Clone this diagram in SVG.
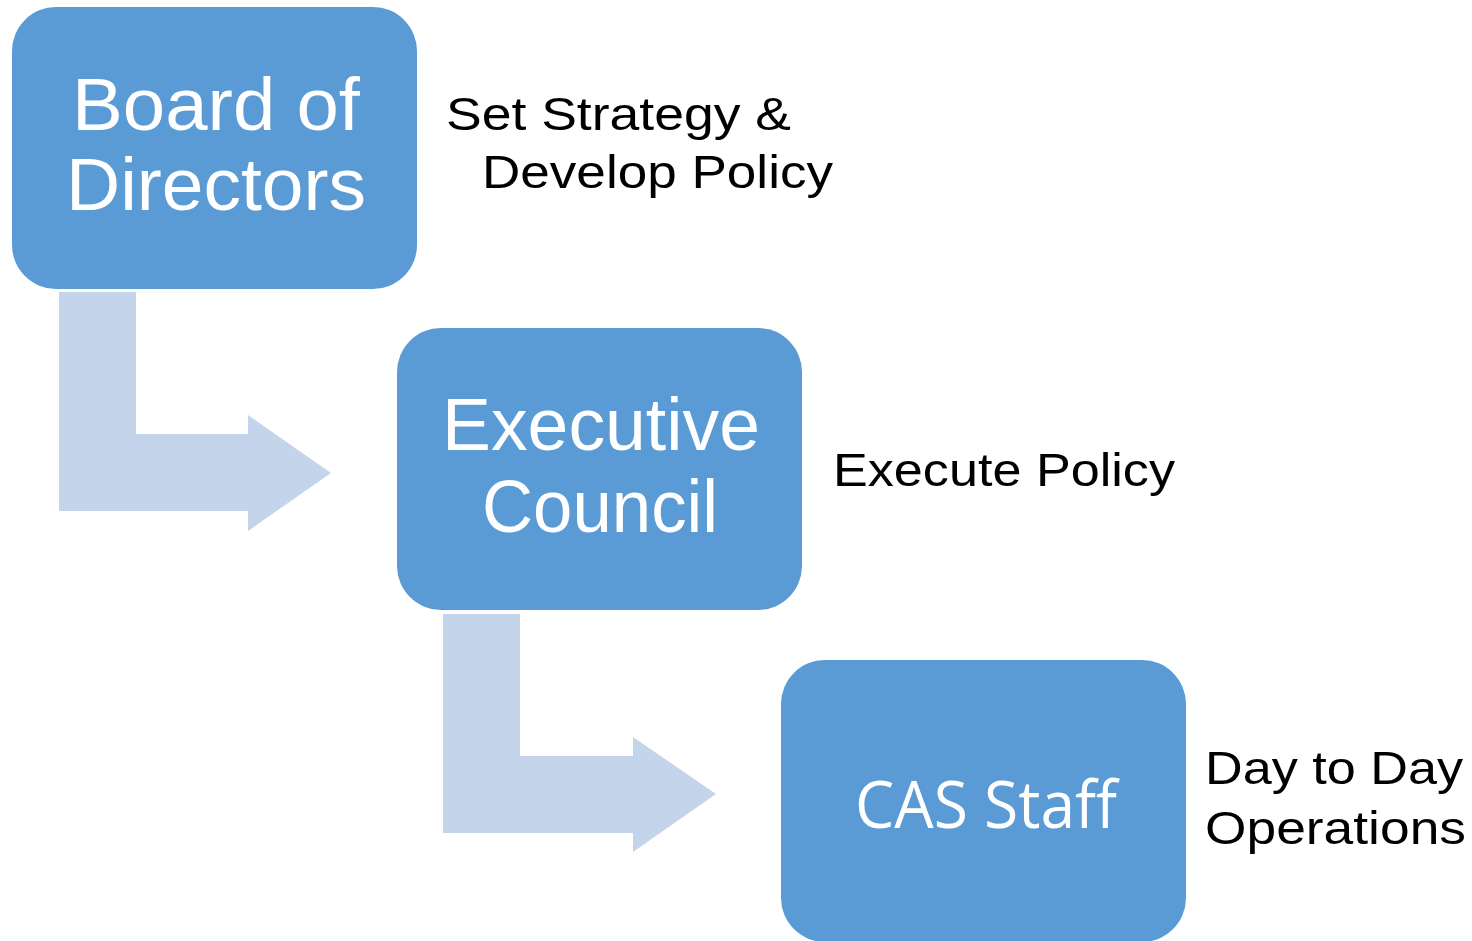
<svg xmlns="http://www.w3.org/2000/svg" width="1472" height="941" viewBox="0 0 1472 941">
<style>
.box{fill:#5B9BD5;}
.arrow{fill:#C4D5EB;}
.bt{font-family:"Liberation Sans",Arial,sans-serif;font-size:74px;fill:#FFFFFF;text-anchor:middle;}
.ct{font-family:"Open Sans","Noto Sans",sans-serif;font-size:65px;fill:#FFFFFF;text-anchor:middle;}
.lt{font-family:"Liberation Sans",Arial,sans-serif;font-size:47px;fill:#000000;}
</style>
<rect width="1472" height="941" fill="#FFFFFF"/>
<g id="connectors">
<path class="arrow" d="M59,292 H136 V434 H248 V415 L331,473 L248,531 V511 H59 Z"/>
<path class="arrow" d="M443,614 H520 V756 H633 V737 L716,794 L633,852 V833 H443 Z"/>
</g>
<g id="board">
<rect class="box" x="12" y="7" width="405" height="282" rx="44" ry="44"/>
<text class="bt" x="216" y="130" textLength="288" lengthAdjust="spacingAndGlyphs">Board of</text>
<text class="bt" x="216" y="210" textLength="300" lengthAdjust="spacingAndGlyphs">Directors</text>
</g>
<g id="executive">
<rect class="box" x="397" y="328" width="405" height="282" rx="44" ry="44"/>
<text class="bt" x="601" y="450" textLength="318" lengthAdjust="spacingAndGlyphs">Executive</text>
<text class="bt" x="600" y="532" textLength="236" lengthAdjust="spacingAndGlyphs">Council</text>
</g>
<g id="staff">
<rect class="box" x="781" y="660" width="405" height="282" rx="44" ry="44"/>
<text class="ct" x="986" y="828" textLength="262" lengthAdjust="spacingAndGlyphs">CAS Staff</text>
</g>
<g id="labels">
<text class="lt" x="446" y="130" textLength="345" lengthAdjust="spacingAndGlyphs">Set Strategy &amp;</text>
<text class="lt" x="482" y="188" textLength="351" lengthAdjust="spacingAndGlyphs">Develop Policy</text>
<text class="lt" x="833" y="486" textLength="342" lengthAdjust="spacingAndGlyphs">Execute Policy</text>
<text class="lt" x="1205" y="784" textLength="258" lengthAdjust="spacingAndGlyphs">Day to Day</text>
<text class="lt" x="1205" y="844" textLength="261" lengthAdjust="spacingAndGlyphs">Operations</text>
</g>
</svg>
